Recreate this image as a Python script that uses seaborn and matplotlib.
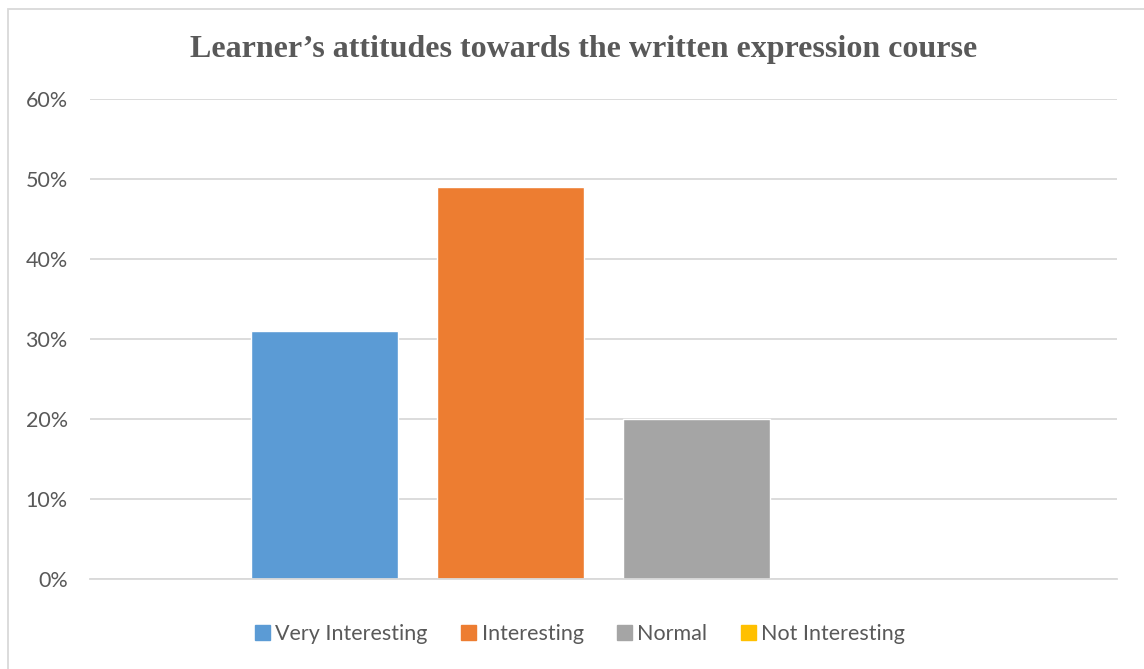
import matplotlib
matplotlib.use('Agg')
import matplotlib.pyplot as plt
import matplotlib.patches as mpatches
import pandas as pd
import seaborn as sns
from matplotlib.ticker import PercentFormatter

# data
series = ['Very Interesting', 'Interesting', 'Normal', 'Not Interesting']
values = [0.31, 0.49, 0.20, 0.0]
colors = ['#5B9BD5', '#ED7D31', '#A5A5A5', '#FFC000']
category = 'Attitude'

df = pd.DataFrame({'category': [category] * len(series), 'series': series, 'value': values})

sns.set_style('white')
plt.rcParams['font.family'] = ['Lato', 'DejaVu Sans']
text_col = '#595959'

fig = plt.figure(figsize=(11.44, 6.69), dpi=100)
ax = fig.add_axes([90 / 1144, 90 / 669, 1027 / 1144, 480 / 669])

sns.barplot(data=df, x='category', y='value', hue='series', hue_order=series,
            palette=colors, width=0.7244, gap=0.2097, ax=ax, saturation=1, legend=True)

ax.set_xlim(-0.5, 0.5)
ax.set_ylim(0, 0.6)
ax.set_yticks([0, 0.1, 0.2, 0.3, 0.4, 0.5, 0.6])
ax.yaxis.set_major_formatter(PercentFormatter(1.0, decimals=0))
ax.set_xticks([])
ax.set_xlabel('')
ax.set_ylabel('')
ax.grid(axis='y', color='#D9D9D9', linewidth=1.3)
ax.set_axisbelow(True)
for s in ['top', 'right', 'left']:
    ax.spines[s].set_visible(False)
ax.spines['bottom'].set_color('#D9D9D9')
ax.spines['bottom'].set_linewidth(1.3)
ax.tick_params(axis='y', length=0, pad=16, labelsize=15.5, labelcolor=text_col)

handles = [mpatches.Patch(color=c, label=s) for c, s in zip(colors, series)]
ax.legend(handles=handles, loc='center', bbox_to_anchor=(580 / 1144, 1 - 634 / 669),
          bbox_transform=fig.transFigure, ncol=4, frameon=False, fontsize=15.5,
          handlelength=0.7, handleheight=0.7, handletextpad=0.25, columnspacing=1.55,
          labelcolor=text_col)

fig.text(584 / 1144, 1 - 50 / 669, 'Learner\u2019s attitudes towards the written expression course',
         ha='center', va='center', fontsize=23, fontweight='bold',
         family=['Liberation Serif', 'DejaVu Serif'], color=text_col)

# chart area border (only top and left edges visible in the crop)
fig.patches.append(mpatches.Rectangle((8 / 1144, -0.1), 1.2, 1 - 9 / 669 + 0.1,
                                      transform=fig.transFigure, fill=False,
                                      edgecolor='#D9D9D9', linewidth=1.3))

fig.savefig('out.png', dpi=100)
